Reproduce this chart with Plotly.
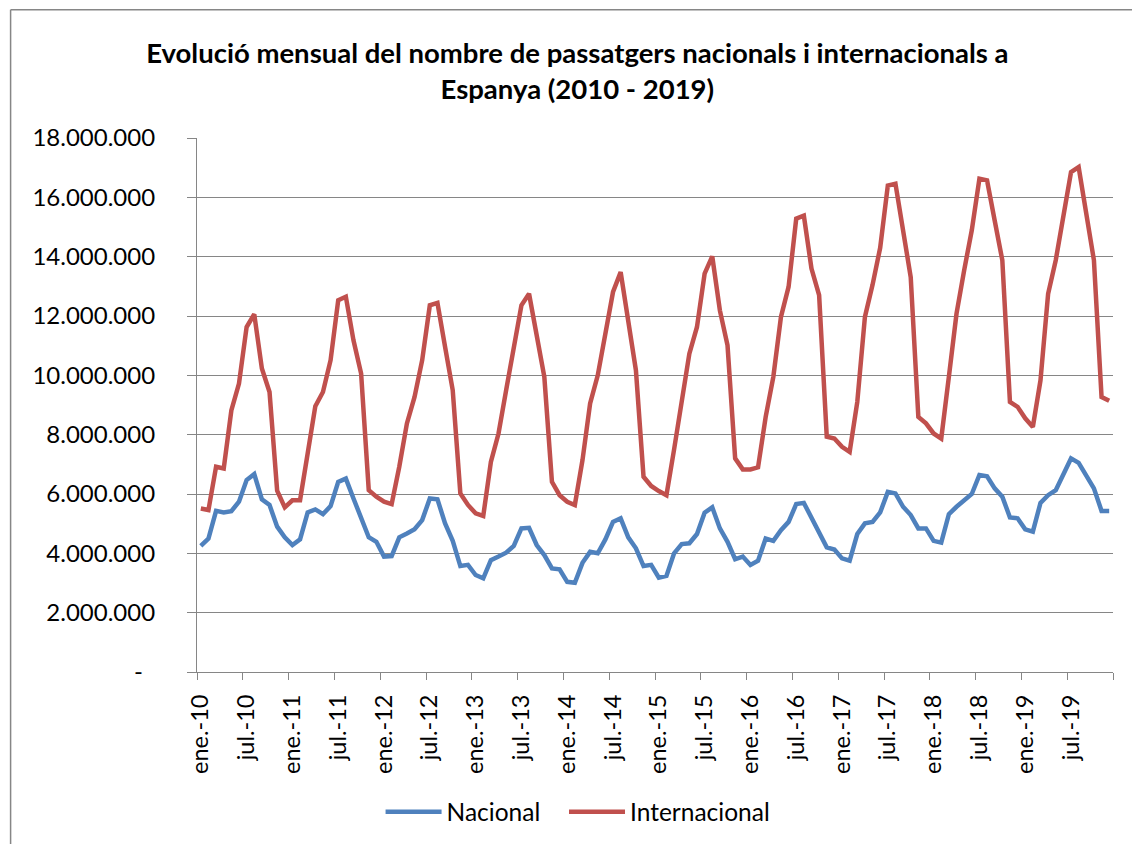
import plotly.graph_objects as go

# categories: months Jan 2010 - Dec 2019
meses = ['ene.', 'feb.', 'mar.', 'abr.', 'may.', 'jun.',
         'jul.', 'ago.', 'sep.', 'oct.', 'nov.', 'dic.']
anys = ['10', '11', '12', '13', '14', '15', '16', '17', '18', '19']
categories = [f'{m}-{a}' for a in anys for m in meses]

# passengers, millions
nacional = [
    4.25, 4.50, 5.43, 5.38, 5.42, 5.74, 6.47, 6.67, 5.82, 5.63, 4.90, 4.54,
    4.28, 4.47, 5.38, 5.48, 5.32, 5.59, 6.41, 6.52, 5.85, 5.23, 4.54, 4.39,
    3.89, 3.91, 4.54, 4.67, 4.81, 5.12, 5.85, 5.82, 5.01, 4.42, 3.57, 3.61,
    3.27, 3.16, 3.77, 3.89, 4.02, 4.25, 4.84, 4.86, 4.28, 3.94, 3.49, 3.46,
    3.04, 3.01, 3.68, 4.05, 4.00, 4.47, 5.06, 5.18, 4.54, 4.17, 3.57, 3.61,
    3.18, 3.24, 4.00, 4.31, 4.34, 4.65, 5.37, 5.55, 4.84, 4.39, 3.80, 3.89,
    3.61, 3.75, 4.50, 4.42, 4.78, 5.06, 5.66, 5.70, 5.18, 4.67, 4.20, 4.13,
    3.83, 3.75, 4.65, 5.01, 5.06, 5.38, 6.07, 6.02, 5.57, 5.29, 4.84, 4.84,
    4.42, 4.36, 5.32, 5.57, 5.79, 6.00, 6.64, 6.60, 6.19, 5.91, 5.21, 5.18,
    4.81, 4.73, 5.70, 5.96, 6.13, 6.64, 7.20, 7.05, 6.64, 6.19, 5.43, 5.43,
]
internacional = [
    5.51, 5.46, 6.92, 6.86, 8.82, 9.72, 11.63, 12.06, 10.23, 9.44, 6.11, 5.55,
    5.79, 5.79, 7.37, 8.96, 9.44, 10.51, 12.53, 12.65, 11.18, 10.06, 6.13, 5.91,
    5.74, 5.66, 6.92, 8.38, 9.27, 10.51, 12.36, 12.44, 10.96, 9.50, 6.02, 5.63,
    5.35, 5.26, 7.08, 8.04, 9.50, 10.85, 12.36, 12.75, 11.29, 9.95, 6.41, 5.96,
    5.74, 5.63, 7.14, 9.05, 10.00, 11.35, 12.81, 13.48, 11.85, 10.17, 6.58, 6.27,
    6.10, 5.96, 7.50, 9.10, 10.73, 11.63, 13.43, 14.01, 12.19, 11.01, 7.20, 6.83,
    6.83, 6.90, 8.60, 9.95, 11.97, 12.98, 15.28, 15.38, 13.60, 12.70, 7.93, 7.87,
    7.59, 7.42, 9.10, 11.97, 13.05, 14.30, 16.40, 16.46, 14.89, 13.31, 8.60, 8.38,
    8.04, 7.87, 9.95, 12.08, 13.54, 14.89, 16.63, 16.57, 15.22, 13.88, 9.10, 8.94,
    8.55, 8.26, 9.83, 12.75, 13.88, 15.45, 16.85, 17.02, 15.45, 13.88, 9.27, 9.14,
]

y_ticks = [0, 2, 4, 6, 8, 10, 12, 14, 16, 18]
y_labels = ['-\u00a0\u00a0', '2.000.000', '4.000.000', '6.000.000', '8.000.000',
            '10.000.000', '12.000.000', '14.000.000', '16.000.000', '18.000.000']

x = list(range(len(categories)))
grey = '#868686'
font = 'Lato'

fig = go.Figure()
fig.add_trace(go.Scatter(x=x, y=nacional, name='Nacional\u00a0\u00a0\u00a0', mode='lines',
                         line=dict(color='#4F81BD', width=4.5)))
fig.add_trace(go.Scatter(x=x, y=internacional, name='Internacional', mode='lines',
                         line=dict(color='#C0504D', width=4.5)))

fig.update_layout(
    width=1132, height=844,
    margin=dict(l=197, r=19, t=137.5, b=172, autoexpand=False),
    paper_bgcolor='white', plot_bgcolor='white',
    font=dict(family=font, color='black', size=24),
    title=dict(text='<b>Evolució mensual del nombre de passatgers nacionals i internacionals a<br>Espanya (2010 - 2019)</b>',
               x=0.51, xref='container', xanchor='center',
               y=1 - 63 / 844, yref='container', yanchor='top',
               font=dict(family=font, size=27.5, color='black')),
    showlegend=True,
    legend=dict(orientation='h', x=0.2004, xanchor='left', y=-0.262, yanchor='middle',
                font=dict(size=24.5), itemwidth=56),
)

fig.update_xaxes(
    range=[-0.5, 119.5], tickmode='array', tickvals=x[::6], ticktext=categories[::6],
    tickangle=-90, ticks='', showgrid=False, zeroline=False,
    showline=True, linecolor=grey, linewidth=1.2,
    tickfont=dict(size=23.5), ticklabelstandoff=12,
    minor=dict(tickmode='linear', tick0=-0.5, dtick=6, ticks='outside', ticklen=7,
               tickcolor=grey, tickwidth=1.2, showgrid=False),
)
fig.update_yaxes(
    range=[0, 18], tickmode='array', tickvals=y_ticks, ticktext=y_labels,
    showgrid=True, gridcolor=grey, gridwidth=1.2, zeroline=False,
    showline=True, linecolor=grey, linewidth=1.2,
    ticks='outside', ticklen=9, tickcolor=grey, tickwidth=1.2,
    ticklabelstandoff=27, tickfont=dict(size=24),
)

# chart-area border (only top and left edges fall inside the window)
fig.add_shape(type='line', xref='paper', yref='paper',
              x0=-0.2035, x1=1.1, y0=1.24, y1=1.24, line=dict(color=grey, width=1.5))
fig.add_shape(type='line', xref='paper', yref='paper',
              x0=-0.2035, x1=-0.2035, y0=-0.5, y1=1.24, line=dict(color=grey, width=1.5))

fig.write_html("out.html", config={'displayModeBar': False},
               post_script="document.body.style.margin='0';document.body.style.overflow='hidden';")
